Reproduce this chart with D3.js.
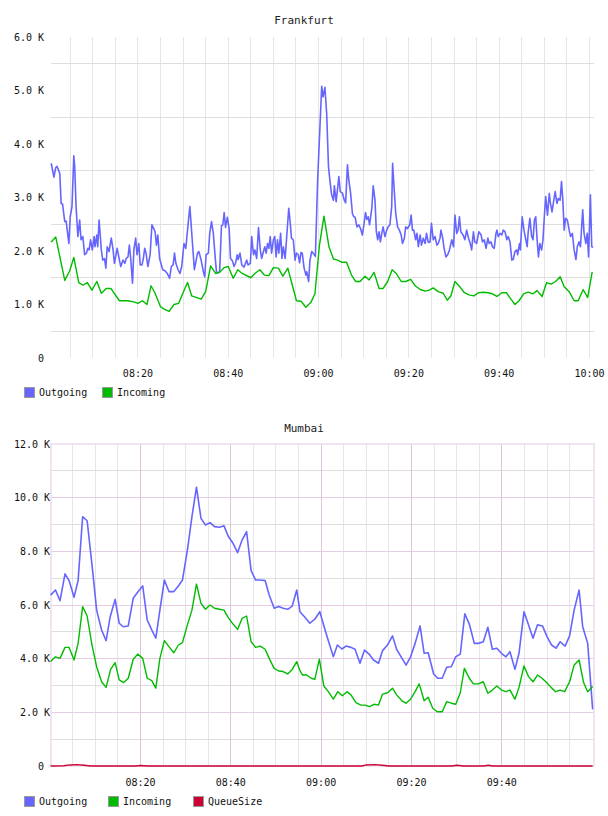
<!DOCTYPE html>
<html>
<head>
<meta charset="utf-8">
<script src="https://cdn.jsdelivr.net/npm/d3@7/dist/d3.min.js"></script>
<style>
  body { margin: 0; background: #fff; }
  text { font-family: "DejaVu Sans Mono", monospace; }
</style>
</head>
<body>
<div id="charts"></div>
<script>
// time values are minutes after 08:00
const base = new Date(2020, 0, 1, 8, 0, 0);
const at = m => new Date(base.getTime() + m * 60000);
const parseHM = s => { const p = s.split(":").map(Number); return at((p[0] - 8) * 60 + p[1]); };

const fraOutgoing = [[0.8,3640],[1.4,3380],[1.8,3560],[2.1,3580],[2.7,3450],[3.0,2890],[3.3,2880],[3.8,2550],[4.1,2560],[4.7,2140],[5.0,2640],[5.4,2830],[5.8,3780],[6.0,3580],[6.3,2830],[6.7,2270],[7.1,2580],[7.4,2210],[7.8,2270],[8.2,1930],[8.6,1960],[8.9,2050],[9.2,2020],[9.5,2210],[9.9,2020],[10.3,2270],[10.5,2080],[10.9,2300],[11.1,2080],[11.4,2580],[11.9,2020],[12.2,1830],[12.6,1860],[12.9,1680],[13.2,2080],[13.6,1990],[14.1,2240],[14.5,2020],[14.8,1770],[15.4,2050],[15.9,1830],[16.2,1710],[16.7,1830],[17.1,1770],[17.4,1860],[17.8,1890],[18.1,2110],[18.4,1860],[18.8,1400],[19.1,2020],[19.5,2240],[19.8,1930],[20.2,2140],[20.5,1740],[20.9,1740],[21.2,1860],[21.5,2050],[21.8,1960],[22.2,1710],[22.7,1930],[23.1,2490],[23.5,2420],[23.8,2360],[24.1,2110],[24.4,2300],[24.8,1860],[25.2,1740],[25.5,1650],[26.0,1630],[26.5,1580],[27.0,1490],[27.4,1710],[27.8,1740],[28.1,1960],[28.4,1770],[28.9,1650],[29.3,1580],[29.7,1710],[30.2,2140],[30.6,2050],[31.1,2490],[31.5,2830],[32.5,1650],[33.2,1960],[33.5,1990],[34.0,1830],[34.5,1610],[34.8,1520],[35.1,1930],[35.6,1960],[35.9,2330],[36.3,2550],[36.7,2330],[37.1,1890],[37.4,1610],[37.8,1590],[38.1,1610],[38.5,2470],[38.8,2490],[39.1,2720],[39.4,2440],[39.8,2630],[40.2,2420],[40.5,1860],[40.9,1820],[41.3,1710],[41.6,1770],[42.0,1930],[42.2,1840],[42.6,1960],[43.0,1740],[43.5,1700],[44.1,1830],[44.4,1740],[44.9,1770],[45.2,2270],[45.6,1930],[45.9,2020],[46.3,1860],[46.7,2440],[47.1,2020],[47.4,1860],[47.8,1990],[48.1,2080],[48.4,1960],[48.7,2140],[49.0,2050],[49.3,2270],[49.6,1960],[50.0,2210],[50.3,2270],[50.6,1890],[50.9,2210],[51.2,1960],[51.6,2330],[51.9,1860],[52.2,2080],[52.6,1860],[52.9,2210],[53.4,2800],[53.7,2550],[54.0,2240],[54.4,2210],[54.8,1830],[55.1,1960],[55.5,1930],[55.8,1780],[56.1,1970],[56.4,1960],[56.8,1680],[57.2,1550],[57.4,1610],[57.8,1430],[58.1,1830],[58.5,1990],[58.8,1960],[59.3,1900],[59.8,3330],[60.7,5080],[61.0,4880],[61.4,5060],[61.8,4570],[62.2,3580],[62.5,3330],[62.9,3050],[63.3,2950],[63.5,3220],[63.9,2920],[64.1,3080],[64.5,3390],[64.8,3110],[65.3,3080],[65.7,2950],[66.0,2900],[66.4,3610],[66.7,3330],[67.1,3080],[67.5,2700],[67.8,2640],[68.1,2630],[68.5,2450],[68.9,2490],[69.3,2420],[69.7,2300],[70.1,2520],[70.4,2720],[70.7,2590],[71.0,2640],[71.3,2490],[71.8,2800],[72.1,3220],[72.5,2950],[72.8,2360],[73.1,2210],[73.4,2360],[73.7,2170],[74.0,2330],[74.3,2450],[74.7,2270],[75.1,2390],[75.4,2450],[75.8,2490],[76.2,2830],[76.4,3640],[76.8,3080],[77.1,2700],[77.5,2450],[77.9,2390],[78.3,2300],[78.6,2140],[79.0,2240],[79.3,2450],[79.7,2420],[80.2,2490],[80.5,2670],[80.8,2390],[81.1,2390],[81.5,2210],[81.8,2330],[82.1,2080],[82.5,2300],[82.8,2110],[83.2,2240],[83.6,2140],[83.9,2330],[84.3,2160],[84.7,2170],[85.0,2520],[85.4,2210],[85.8,2270],[86.2,2110],[86.5,2140],[86.9,2240],[87.1,2390],[87.5,2240],[87.8,2050],[88.2,1890],[88.6,1930],[89.0,2020],[89.5,2210],[89.9,2080],[90.2,2670],[90.6,2330],[90.9,2390],[91.2,2640],[91.5,2360],[92.0,2300],[92.4,2210],[92.8,2390],[93.2,2240],[93.5,2170],[93.9,2020],[94.3,2360],[94.6,2170],[95.0,2140],[95.5,2360],[96.0,2300],[96.3,2170],[96.7,2210],[97.1,2050],[97.5,2240],[97.8,2140],[98.2,2170],[98.5,2080],[98.9,2050],[99.3,2330],[99.5,2390],[99.8,2270],[100.2,2330],[100.6,2300],[100.9,2390],[101.3,2360],[101.7,2210],[102.0,2270],[102.4,2170],[102.8,1830],[103.1,1840],[103.5,1990],[103.9,2020],[104.1,1930],[104.5,2140],[104.7,2020],[105.1,2640],[105.5,2390],[105.9,2210],[106.2,2080],[106.4,2330],[106.8,2610],[107.2,2270],[107.5,2210],[107.8,2580],[108.1,2640],[108.4,2210],[108.7,1890],[109.0,2140],[109.4,2020],[109.7,2210],[110.0,2640],[110.3,3020],[110.7,2670],[111.1,3080],[111.3,2920],[111.7,2730],[112.1,2950],[112.4,3110],[112.8,2890],[113.1,2980],[113.5,2950],[113.8,3300],[114.1,2950],[114.4,2390],[114.7,2610],[115.1,2580],[115.5,2390],[115.8,2270],[116.2,2330],[116.6,2020],[117.0,1840],[117.3,2080],[117.7,2170],[118.0,2080],[118.5,2770],[118.8,2330],[119.2,2140],[119.5,2330],[119.8,1890],[120.2,3050],[120.5,2080],[120.8,2070]];

const fraIncoming = [[0.8,2170],[1.8,2260],[3.8,1450],[4.9,1630],[5.8,1880],[6.9,1410],[7.8,1360],[8.8,1410],[9.8,1270],[10.9,1430],[11.9,1210],[13.0,1300],[14.0,1300],[15.9,1070],[17.8,1070],[19.1,1050],[20.0,1020],[21.0,1070],[22.0,1000],[22.9,1350],[23.8,1210],[25.0,960],[25.9,910],[26.9,870],[28.0,1000],[29.0,1020],[30.4,1300],[31.0,1410],[31.9,1160],[34.0,1100],[35.0,1240],[36.1,1720],[37.2,1580],[38.2,1610],[39.1,1690],[40.0,1710],[41.1,1490],[42.1,1650],[43.1,1580],[45.0,1500],[45.9,1580],[47.0,1650],[48.0,1550],[49.0,1540],[50.0,1690],[51.1,1680],[52.1,1530],[53.2,1680],[54.2,1360],[55.1,1070],[56.1,1060],[57.2,950],[58.3,1040],[59.2,1200],[60.2,2110],[61.2,2650],[62.3,2080],[63.3,1850],[64.2,1830],[65.1,1790],[66.2,1790],[67.3,1550],[68.2,1430],[69.2,1430],[70.3,1530],[71.2,1460],[72.3,1600],[73.4,1300],[74.3,1300],[75.3,1430],[76.3,1650],[77.3,1570],[78.3,1430],[79.3,1430],[80.4,1470],[81.4,1350],[82.5,1280],[83.6,1250],[84.5,1270],[85.4,1310],[86.5,1240],[87.6,1210],[88.5,1080],[89.3,1160],[90.2,1430],[91.3,1330],[92.3,1220],[93.3,1180],[94.4,1160],[95.4,1220],[96.5,1230],[97.5,1220],[98.5,1200],[99.5,1150],[100.6,1220],[101.6,1220],[102.6,1100],[103.5,1000],[104.4,1070],[105.4,1200],[106.4,1230],[107.5,1200],[108.4,1260],[109.5,1150],[110.5,1410],[111.5,1380],[112.5,1430],[113.5,1520],[114.4,1330],[115.5,1240],[116.6,1070],[117.5,1070],[118.6,1280],[119.6,1130],[120.6,1610]];

const mumOutgoing = [[0.1,6370],[1.2,6560],[2.2,6160],[3.3,7160],[4.2,6910],[5.3,6290],[6.2,6910],[7.2,9290],[8.2,9140],[9.4,7300],[10.3,5810],[11.4,5070],[12.4,4670],[13.3,5560],[14.4,6210],[15.3,5320],[16.2,5190],[17.3,5220],[18.4,6250],[19.5,6500],[20.5,6710],[21.5,5440],[22.5,5070],[23.4,4760],[24.3,5810],[25.3,6930],[26.3,6500],[27.4,6500],[28.4,6710],[29.3,6930],[30.4,8050],[31.4,9290],[32.4,10390],[33.4,9230],[34.4,8980],[35.4,9070],[36.4,8920],[37.5,8900],[38.5,8950],[39.4,8570],[40.5,8300],[41.5,7950],[42.5,8420],[43.5,8730],[44.5,7280],[45.5,6930],[46.5,6930],[47.6,6910],[48.5,6370],[49.6,5880],[50.6,5940],[51.6,5880],[52.6,5840],[53.6,5960],[54.6,6560],[55.3,5750],[56.4,5540],[57.5,5320],[58.6,5470],[59.7,5750],[61.2,4880],[62.7,4070],[63.6,4510],[64.6,4360],[65.5,4470],[66.6,4420],[67.5,4350],[68.6,3830],[69.6,4320],[70.6,4170],[71.6,3950],[72.7,3830],[73.6,4300],[74.7,4510],[75.8,4850],[76.7,4350],[77.9,4010],[78.8,3760],[79.8,4070],[80.8,4570],[81.9,5220],[82.8,4200],[83.7,4220],[84.9,3430],[85.8,3270],[86.8,3270],[87.8,3680],[88.8,3700],[89.8,4070],[90.8,4170],[91.8,5670],[92.8,5290],[93.9,4570],[94.8,4570],[95.9,4630],[96.9,5170],[97.9,4350],[98.9,4390],[99.9,4200],[100.9,4070],[101.8,4260],[102.9,3600],[103.8,4200],[104.9,5750],[105.9,5260],[106.9,4760],[107.9,5260],[109.0,5220],[110.0,4820],[111.0,4510],[112.0,4390],[112.9,4630],[114.0,4470],[115.0,4850],[116.0,5810],[117.1,6560],[117.9,5190],[119.0,4570],[120.1,2110]];

const mumIncoming = [[0.1,3890],[1.2,4070],[2.2,4010],[3.3,4420],[4.2,4420],[5.3,3950],[6.2,4570],[7.2,5940],[8.2,5590],[9.2,4570],[10.3,3700],[11.4,3140],[12.4,2930],[13.4,3600],[14.4,3850],[15.3,3210],[16.3,3110],[17.3,3270],[18.4,3980],[19.4,4170],[20.5,4010],[21.5,3270],[22.5,3180],[23.4,2900],[24.3,4010],[25.3,4670],[26.3,4450],[27.4,4220],[28.4,4510],[29.3,4600],[30.4,5260],[31.4,5810],[32.4,6780],[33.4,6060],[34.4,5840],[35.4,6000],[36.4,5880],[37.5,5840],[38.5,5810],[39.4,5540],[40.5,5290],[41.5,5090],[42.5,5500],[43.5,5590],[44.5,4630],[45.5,4420],[46.5,4470],[47.6,4350],[48.5,4010],[49.6,3640],[50.6,3540],[51.6,3520],[52.6,3430],[53.6,3600],[54.6,3890],[55.3,3550],[55.9,3390],[56.8,3390],[57.8,3270],[58.6,3230],[59.6,3980],[60.6,2980],[61.6,2770],[62.7,2490],[63.7,2770],[64.7,2620],[65.7,2770],[66.6,2650],[67.7,2360],[68.8,2270],[69.7,2270],[70.7,2210],[71.7,2300],[72.7,2270],[73.6,2680],[74.7,2730],[75.8,2900],[76.7,2650],[77.9,2430],[78.8,2340],[79.8,2490],[80.8,2770],[81.7,3060],[82.8,2430],[83.7,2560],[84.7,2150],[85.7,2020],[86.8,2020],[87.8,2400],[88.8,2340],[89.8,2300],[90.8,2730],[91.7,3640],[92.8,3270],[93.7,3060],[94.8,3060],[95.9,3140],[96.9,2710],[97.9,2830],[98.9,2980],[99.9,2830],[100.9,2770],[101.8,2830],[102.9,2490],[103.8,2930],[104.9,3730],[105.9,3330],[106.9,3140],[107.9,3390],[108.9,3270],[109.9,3110],[110.9,2930],[111.9,2770],[112.9,2830],[113.9,2770],[115.0,3140],[116.0,3760],[117.1,3950],[118.1,3110],[119.0,2770],[120.1,2960]];

const mumQueue = [[0.1,0],[3.0,10],[4.5,40],[6.0,50],[7.5,30],[9.0,0],[19.0,0],[20.0,20],[21.5,0],[69.0,0],[70.0,40],[72.0,50],[73.5,30],[75.0,0],[89.0,0],[90.0,30],[91.5,0],[96.0,0],[97.0,30],[98.0,0],[120.1,0]];

const fraTicks = ["08:20", "08:40", "09:00", "09:20", "09:40", "10:00"];
const mumTicks = ["08:20", "08:40", "09:00", "09:20", "09:40"];
const fraYTicks = [0, 1000, 2000, 3000, 4000, 5000, 6000];
const mumYTicks = [0, 2000, 4000, 6000, 8000, 10000, 12000];
const fraNames = ["Outgoing", "Incoming"];
const mumNames = ["Outgoing", "Incoming", "QueueSize"];
const colors = ["#6666ff", "#00bb00", "#cc0033"];

const svg = d3.select("#charts").append("svg")
  .attr("width", 608)
  .attr("height", 816);

const fmtK = v => v === 0 ? "0" : (v / 1000).toFixed(1) + " K";

function drawChart(o) {
  const g = svg.append("g");
  const x = d3.scaleTime().domain(o.domain.map(at)).range([o.left, o.right]);
  const y = d3.scaleLinear().domain([0, o.yMax]).range([o.bottom, o.top]);

  // grid
  g.selectAll(".vminor").data(o.vMinor).enter().append("line")
    .attr("x1", d => x(at(d))).attr("x2", d => x(at(d)))
    .attr("y1", o.top).attr("y2", o.bottom)
    .attr("stroke", "#e6e6e6").attr("shape-rendering", "crispEdges");
  g.selectAll(".hminor").data(o.hMinor).enter().append("line")
    .attr("x1", o.left).attr("x2", o.right)
    .attr("y1", d => y(d)).attr("y2", d => y(d))
    .attr("stroke", "#dedede").attr("shape-rendering", "crispEdges");
  g.selectAll(".vmajor").data(o.vMajor).enter().append("line")
    .attr("x1", d => x(at(d))).attr("x2", d => x(at(d)))
    .attr("y1", o.top).attr("y2", o.bottom)
    .attr("stroke", "#dcc4dc").attr("shape-rendering", "crispEdges");
  g.selectAll(".hmajor").data(o.hMajor).enter().append("line")
    .attr("x1", o.left).attr("x2", o.right)
    .attr("y1", d => y(d)).attr("y2", d => y(d))
    .attr("stroke", "#e6cce6").attr("shape-rendering", "crispEdges");
  if (o.border) {
    g.append("rect")
      .attr("x", o.left).attr("y", o.top)
      .attr("width", o.right - o.left).attr("height", o.bottom - o.top)
      .attr("fill", "none").attr("stroke", "#ecdcec").attr("stroke-width", 1.5);
  }

  // title
  g.append("text")
    .attr("x", 304).attr("y", o.titleY)
    .attr("text-anchor", "middle").attr("dy", "0.35em")
    .style("font-size", "11px").style("fill", "#222")
    .text(o.title);

  // y labels
  g.selectAll(".ylab").data(o.yTicks).enter().append("text")
    .attr("x", d => d === 0 ? 44 : o.yLabelX)
    .attr("y", d => y(d)).attr("dy", "0.35em")
    .attr("text-anchor", "end")
    .style("font-size", "10px").style("fill", "#111")
    .text(fmtK);

  // x labels
  g.selectAll(".xlab").data(o.xTicks).enter().append("text")
    .attr("x", d => x(parseHM(d)))
    .attr("y", o.xLabelY).attr("dy", "0.35em")
    .attr("text-anchor", "middle")
    .style("font-size", "10px").style("fill", "#111")
    .text(d => d);

  // series
  const line = d3.line().x(d => x(at(d[0]))).y(d => y(d[1]));
  o.series.forEach((s, i) => {
    g.append("path")
      .datum(s)
      .attr("d", line)
      .attr("fill", "none")
      .attr("stroke", colors[i])
      .attr("stroke-width", i === 0 ? 1.6 : 1.4)
      .attr("stroke-linejoin", "round");
  });

  // legend
  const lg = g.selectAll(".legend").data(o.names).enter().append("g")
    .attr("transform", (d, i) => `translate(${o.legendX[i]},${o.legendY})`);
  lg.append("rect")
    .attr("x", 0.5).attr("y", -4.5).attr("width", 10).attr("height", 10)
    .attr("fill", (d, i) => colors[i]).attr("stroke", "#999");
  lg.append("text")
    .attr("x", 15).attr("y", 0.5).attr("dy", "0.35em")
    .style("font-size", "10px").style("fill", "#111")
    .text(d => d);
}

drawChart({
  title: "Frankfurt", titleY: 20,
  domain: [0.75, 121.0], yMax: 6000,
  left: 51, right: 594, top: 37, bottom: 358,
  vMinor: d3.range(5, 121, 5), vMajor: [],
  hMinor: d3.range(500, 6000, 1000), hMajor: [],
  border: false,
  yTicks: fraYTicks, yLabelX: 44,
  xTicks: fraTicks, xLabelY: 373,
  series: [fraOutgoing, fraIncoming],
  names: fraNames, legendX: [24, 102], legendY: 392
});

drawChart({
  title: "Mumbai", titleY: 428,
  domain: [0.2, 120.4], yMax: 12000,
  left: 51, right: 594, top: 444, bottom: 766,
  vMinor: d3.range(5, 120, 5).filter(m => m % 20 !== 0), vMajor: d3.range(20, 120, 20),
  hMinor: d3.range(1000, 12000, 2000), hMajor: d3.range(2000, 12000, 2000),
  border: true,
  yTicks: mumYTicks, yLabelX: 50,
  xTicks: mumTicks, xLabelY: 782,
  series: [mumOutgoing, mumIncoming, mumQueue],
  names: mumNames, legendX: [24, 108, 193], legendY: 801
});
</script>
</body>
</html>
